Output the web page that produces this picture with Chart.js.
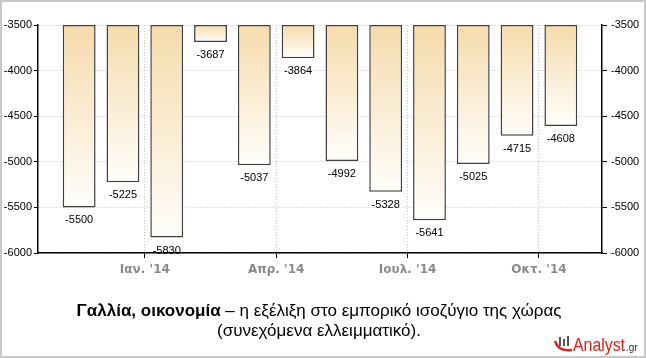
<!DOCTYPE html>
<html><head><meta charset="utf-8">
<script src="https://cdn.jsdelivr.net/npm/chart.js@4.4.1/dist/chart.umd.min.js"></script>
<style>html,body{margin:0;padding:0;background:#fff;overflow:hidden}#wrap{width:646px;height:358px;position:relative}canvas{display:block}</style>
</head><body><div id="wrap"><canvas id="c" width="646" height="358"></canvas></div>
<script>
const categories = ["Νοε. '13","Δεκ. '13","Ιαν. '14","Φεβ. '14","Μαρ. '14","Απρ. '14","Μαϊ. '14","Ιουν. '14","Ιουλ. '14","Αυγ. '14","Σεπ. '14","Οκτ. '14"];
const balance = [-5500,-5225,-5830,-3687,-5037,-3864,-4992,-5328,-5641,-5025,-4715,-4608];
const baseline = -3500;
const xTickLabels = ["Ιαν. '14","Απρ. '14","Ιουλ. '14","Οκτ. '14"];
const yTicks = [-3500,-4000,-4500,-5000,-5500,-6000];
const captionBold = "Γαλλία, οικονομία";
const captionRest = " – η εξέλιξη στο εμπορικό ισοζύγιο της χώρας";
const captionLine2 = "(συνεχόμενα ελλειμματικό).";

const FONT = "'Liberation Sans', Arial, sans-serif";

function barGradient(ctx) {
  const chart = ctx.chart;
  const y = chart.scales && chart.scales.y;
  if (!y || ctx.type !== 'data' || !chart.chartArea) return '#f8e6c4';
  const top = y.getPixelForValue(baseline);
  const bot = y.getPixelForValue(balance[ctx.dataIndex]);
  const g = chart.ctx.createLinearGradient(0, top, 0, bot);
  g.addColorStop(0, '#f5dbab');
  g.addColorStop(1, '#fffefb');
  return g;
}

const decorPlugin = {
  id: 'decor',
  beforeDraw(chart) {
    const c = chart.ctx;
    c.save();
    c.fillStyle = '#fff';
    c.fillRect(0, 0, chart.width, chart.height);
    c.restore();
  },
  afterDatasetsDraw(chart) {
    const c = chart.ctx;
    const meta = chart.getDatasetMeta(0);
    const y = chart.scales.y;
    c.save();
    c.font = "11px " + FONT;
    c.fillStyle = '#000';
    c.textAlign = 'center';
    c.textBaseline = 'middle';
    meta.data.forEach((bar, i) => {
      const py = y.getPixelForValue(balance[i]) + 13;
      c.fillText(String(balance[i]), bar.x, py);
    });
    c.restore();
  },
  afterDraw(chart) {
    const c = chart.ctx;
    c.save();
    // frame
    c.strokeStyle = '#c8c8c8';
    c.lineWidth = 2;
    c.strokeRect(1, 1, chart.width - 2, chart.height - 2);
    // caption
    const cx = 319;
    c.textBaseline = 'middle';
    c.fillStyle = '#000';
    const fb = "bold 17px " + FONT, fr = "17px " + FONT;
    c.font = fb; const wb = c.measureText(captionBold).width;
    c.font = fr; const wr = c.measureText(captionRest).width;
    let x0 = cx - (wb + wr) / 2;
    c.textAlign = 'left';
    c.font = fb; c.fillText(captionBold, x0, 311);
    c.font = fr; c.fillText(captionRest, x0 + wb, 311);
    c.textAlign = 'center';
    c.fillText(captionLine2, cx, 331);
    // logo
    c.fillStyle = '#555';
    c.fillRect(559, 337, 2, 9);
    c.fillRect(563, 339, 2, 7);
    c.fillRect(567, 336, 2, 10);
    c.strokeStyle = '#e0201b';
    c.lineWidth = 2.5;
    c.beginPath();
    c.moveTo(555, 341);
    c.quadraticCurveTo(558, 352, 572, 350);
    c.stroke();
    c.fillStyle = '#e0201b';
    c.font = "19px " + FONT;
    c.textAlign = 'left';
    c.textBaseline = 'alphabetic';
    const wa = c.measureText('Analyst').width;
    c.save();
    c.translate(573, 351);
    c.scale(52 / wa, 1);
    c.fillText('Analyst', 0, 0);
    c.restore();
    c.fillStyle = '#333';
    c.font = "10px " + FONT;
    c.fillText('.gr', 626, 351);
    c.restore();
  }
};

const gridDash = [1, 2];

new Chart(document.getElementById('c'), {
  type: 'bar',
  data: {
    datasets: [{
      data: balance.map((v, i) => ({ x: i, y: [baseline, v] })),
      backgroundColor: barGradient,
      borderColor: '#404040',
      borderWidth: 1.5,
      borderSkipped: false,
      barPercentage: 0.75,
      categoryPercentage: 1.0,
      yAxisID: 'y'
    }]
  },
  options: {
    responsive: false,
    animation: false,
    layout: { padding: { top: 25, left: 0, right: 0, bottom: 0 } },
    plugins: { legend: { display: false }, tooltip: { enabled: false } },
    scales: {
      x: {
        type: 'linear',
        offset: false,
        min: -0.94,
        max: 11.94,
        afterBuildTicks: (s) => { s.ticks = xTickLabels.map(l => ({ value: categories.indexOf(l) - 0.5 })); },
        afterFit: (s) => { s.height = 105; },
        ticks: {
          autoSkip: false,
          maxRotation: 0,
          padding: 5,
          color: '#8a8a8a',
          font: { family: "'DejaVu Sans', sans-serif", size: 12, weight: 'bold' },
          callback: (v) => categories[Math.round(v + 0.5)]
        },
        grid: { offset: false, color: '#c4c4c4', tickColor: '#000', tickLength: 5, lineWidth: 1 },
        border: { color: '#000', width: 1.5, dash: gridDash }
      },
      y: {
        position: 'left',
        min: -6000,
        max: -3500,
        afterBuildTicks: (s) => { s.ticks = yTicks.map(v => ({ value: v })); },
        afterFit: (s) => { s.width = 38; },
        ticks: { color: '#000', padding: 2, font: { family: FONT, size: 11 }, callback: (v) => String(v) },
        grid: { color: '#c4c4c4', tickColor: '#000', tickLength: 4 },
        border: { color: '#000', width: 1.5, dash: gridDash }
      },
      y2: {
        position: 'right',
        min: -6000,
        max: -3500,
        afterBuildTicks: (s) => { s.ticks = yTicks.map(v => ({ value: v })); },
        afterFit: (s) => { s.width = 44; },
        ticks: { color: '#000', padding: 4, font: { family: FONT, size: 11 }, callback: (v) => String(v) },
        grid: { drawOnChartArea: false, tickColor: '#000', tickLength: 5 },
        border: { color: '#000', width: 1.5 }
      }
    }
  },
  plugins: [decorPlugin]
});
</script>
</body></html>
